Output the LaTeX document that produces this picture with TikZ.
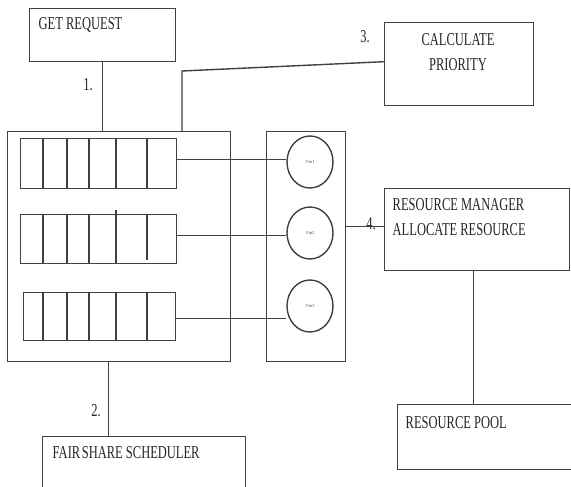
\documentclass[tikz,border=0pt]{standalone}
\usepackage{fontspec}
\setmainfont{Liberation Serif}
\usetikzlibrary{shapes.geometric}
\newcommand\stt[1]{\scalebox{1}[1.45]{#1}}
\begin{document}
\begin{tikzpicture}[x=1pt,y=-1pt,
  line width=1.4pt,
  conn/.style={draw=black!75, line width=1.4pt},
  boxnode/.style={draw=black!75, line width=1.4pt, rectangle, inner sep=0pt, anchor=north west},
  txt/.style={inner sep=0pt, text=black!85, font=\fontsize{12.5}{17.2}\selectfont},
  num/.style={inner sep=0pt, text=black!85, font=\fontsize{12.5}{15}\selectfont},
  vmnode/.style={draw=black!75, line width=1.4pt, ellipse, minimum width=46pt, minimum height=52pt, inner sep=0pt, font=\fontsize{4.5}{5}\selectfont, text=black!70},
  qdiv/.style={draw=black!75, line width=1.4pt}
]
\clip (0,0) rectangle (571,487);
\fill[white] (0,0) rectangle (571,487);

% boxes
\node[boxnode, minimum width=146pt, minimum height=53pt] (get) at (29,8) {};
\node[txt, anchor=west] (gettxt) at (38,25) {\stt{GET REQUEST}};

\node[boxnode, minimum width=149pt, minimum height=83pt] (calc) at (384,22) {};
\node[txt, anchor=center] (calctxt) at (458,53) {\stt{\begin{tabular}{@{}c@{}}CALCULATE\\PRIORITY\end{tabular}}};

\node[boxnode, minimum width=223pt, minimum height=230pt] (bigbox) at (7,131) {};
\node[boxnode, minimum width=79pt, minimum height=230pt] (vmbox) at (266,131) {};

\node[boxnode, minimum width=185pt, minimum height=82pt] (rm) at (384,188) {};
\node[txt, anchor=west] (rmtxt) at (392,218) {\stt{\begin{tabular}{@{}l@{}}RESOURCE MANAGER\\ALLOCATE RESOURCE\end{tabular}}};

\node[boxnode, minimum width=190pt, minimum height=65pt] (pool) at (397,404) {};
\node[txt, anchor=west] (pooltxt) at (405,423) {\stt{RESOURCE POOL}};

\node[boxnode, minimum width=203pt, minimum height=70pt] (fair) at (42,436) {};
\node[txt, anchor=west] (fairtxt) at (52,453) {\stt{FAIR\hspace{-1.5pt} SHARE SCHEDULER}};

% queues
\node[boxnode, minimum width=156pt, minimum height=50pt] (q1) at (20,138) {};
\node[boxnode, minimum width=156pt, minimum height=49pt] (q2) at (20,214) {};
\node[boxnode, minimum width=152pt, minimum height=48pt] (q3) at (23,292) {};

\foreach \d in {23,47,69,96,127} {
  \draw[qdiv] ([xshift=\d pt]q1.north west) -- ([xshift=\d pt]q1.south west);
}
\foreach \d in {23,47,69} {
  \draw[qdiv] ([xshift=\d pt]q2.north west) -- ([xshift=\d pt]q2.south west);
}
\draw[qdiv] ([xshift=96pt,yshift=4pt]q2.north west) -- ([xshift=96pt]q2.south west);
\draw[qdiv] ([xshift=127pt]q2.north west) -- ([xshift=127pt,yshift=4pt]q2.south west);
\foreach \d in {20,44,66,93,124} {
  \draw[qdiv] ([xshift=\d pt]q3.north west) -- ([xshift=\d pt]q3.south west);
}

% VMs
\node[vmnode] (vm1) at (310,162) {Vm1};
\node[vmnode] (vm2) at (310,233) {Vm2};
\node[vmnode] (vm3) at (310,306) {Vm3};

\draw[conn] ([yshift=4pt]q1.east) -- ([yshift=4pt]q1.east -| vm1.west);
\draw[conn] ([yshift=3.5pt]q2.east) -- ([yshift=3.5pt]q2.east -| vm2.west);
\draw[conn] ([yshift=-2pt]q3.east) -- ([yshift=-2pt]q3.east -| vm3.west);

% connectors
\coordinate (bend) at (182,71);
\draw[conn] (get.south) -- (get.south |- bigbox.north);
\draw[conn] ([yshift=2.5pt]calc.west) -- (bend) -- (bend |- bigbox.north);
\draw[conn] ([xshift=-10.5pt]bigbox.south) -- ([xshift=-10.5pt]bigbox.south |- fair.north);
\draw[conn] ([yshift=3pt]rm.west) -- ([yshift=3pt]rm.west -| vmbox.east);
\draw[conn] ([xshift=-4pt]rm.south) -- ([xshift=-4pt]rm.south |- pool.north);

% labels
\node[num] (n1) at (88,85) {\stt{1.}};
\node[num] (n2) at (96,411) {\stt{2.}};
\node[num] (n3) at (365,37) {\stt{3.}};
\node[num] (n4) at (371,224) {\stt{4.}};
\end{tikzpicture}
\end{document}
